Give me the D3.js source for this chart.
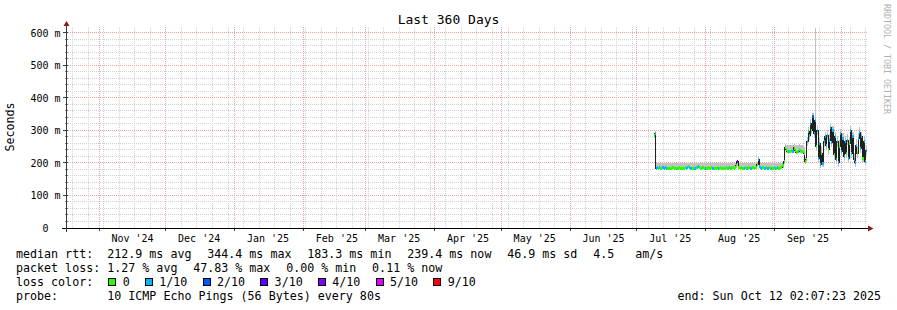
<!DOCTYPE html>
<html>
<head>
<meta charset="utf-8">
<title>Last 360 Days</title>
<script src="https://cdn.jsdelivr.net/npm/d3@7"></script>
<style>
  body { margin: 0; background: #ffffff; }
  svg text { font-family: "DejaVu Sans Mono", monospace; white-space: pre; }
</style>
</head>
<body>
<div class="chart"></div>
<script>
// smokeping style graph, last 360 days

var endTime = new Date(2025, 9, 12, 2, 7, 23);
var spanDays = 360;
var dataStart = new Date(2025, 6, 8, 12, 0, 0);
var stepHours = 12;

// median rtt (ms), one value every 12 hours
var median = [
  283, 290, 184, 185, 184, 185, 184, 184, 185, 184,
  185, 184, 183, 184, 184, 183, 184, 185, 184, 184,
  183, 184, 184, 185, 184, 184, 183, 184, 185, 184,
  185, 190, 185, 184, 184, 183, 184, 184, 185, 186,
  189, 185, 184, 184, 185, 184, 183, 184, 184, 185,
  184, 184, 185, 184, 183, 184, 184, 185, 184, 184,
  185, 184, 184, 183, 184, 185, 184, 184, 185, 184,
  184, 185, 184, 186, 192, 205, 187, 185, 184, 185,
  184, 184, 185, 184, 184, 186, 185, 184, 184, 185,
  184, 185, 186, 194, 212, 188, 185, 184, 185, 184,
  184, 185, 184, 184, 185, 184, 183, 184, 185, 184,
  184, 185, 184, 184, 185, 186, 192, 205, 248, 242,
  236, 234, 235, 236, 238, 235, 246, 237, 233, 234,
  236, 240, 238, 234, 236, 228, 205, 212, 265, 298,
  285, 320, 300, 344, 290, 330, 250, 300, 215, 260,
  196, 230, 198, 265, 280, 255, 285, 240, 270, 310,
  262, 300, 225, 280, 210, 265, 200, 250, 290, 235,
  275, 220, 265, 230, 270, 215, 260, 300, 230, 280,
  210, 200, 255, 230, 275, 295, 245, 280, 215, 265,
  205, 239
];

// smoke band, lowest and highest ping (ms)
var smokeLo = [
  278, 282, 181, 182, 181, 182, 181, 181, 182, 181,
  182, 181, 180, 181, 181, 180, 181, 182, 181, 181,
  180, 181, 181, 182, 181, 181, 180, 181, 182, 181,
  182, 183, 182, 181, 181, 180, 181, 181, 182, 183,
  183, 182, 181, 181, 182, 181, 180, 181, 181, 182,
  181, 181, 182, 181, 180, 181, 181, 182, 181, 181,
  182, 181, 181, 180, 181, 182, 181, 181, 182, 181,
  181, 182, 181, 183, 186, 190, 183, 182, 181, 182,
  181, 181, 182, 181, 181, 183, 182, 181, 181, 182,
  181, 182, 183, 187, 196, 184, 182, 181, 182, 181,
  181, 182, 181, 181, 182, 181, 180, 181, 182, 181,
  181, 182, 181, 181, 182, 183, 186, 196, 236, 232,
  230, 229, 230, 230, 231, 230, 234, 231, 229, 229,
  230, 232, 231, 229, 230, 222, 198, 204, 252, 286,
  272, 305, 288, 332, 276, 312, 236, 286, 202, 244,
  186, 216, 188, 250, 266, 240, 270, 226, 256, 296,
  248, 286, 212, 266, 198, 250, 188, 236, 276, 222,
  262, 206, 250, 216, 256, 202, 246, 286, 216, 266,
  198, 188, 240, 216, 262, 282, 232, 266, 202, 250,
  194, 226
];

var smokeHi = [
  292, 298, 200, 200, 201, 200, 199, 200, 200, 201,
  200, 200, 199, 200, 201, 200, 200, 199, 200, 200,
  201, 200, 200, 199, 200, 200, 201, 200, 200, 200,
  199, 202, 200, 200, 201, 200, 200, 199, 200, 200,
  201, 200, 200, 200, 199, 200, 201, 200, 200, 200,
  200, 199, 200, 201, 200, 200, 200, 199, 200, 201,
  200, 200, 200, 199, 200, 201, 200, 200, 200, 199,
  200, 200, 201, 200, 201, 210, 200, 200, 199, 200,
  200, 201, 200, 200, 199, 200, 200, 201, 200, 200,
  200, 199, 200, 203, 218, 202, 200, 200, 201, 200,
  200, 199, 200, 200, 201, 200, 200, 199, 200, 200,
  201, 200, 200, 199, 200, 200, 203, 212, 258, 256,
  255, 254, 255, 256, 255, 254, 262, 256, 255, 254,
  255, 258, 256, 255, 254, 248, 218, 228, 280, 310,
  300, 335, 318, 355, 315, 615, 275, 318, 240, 278,
  212, 252, 214, 282, 296, 275, 300, 262, 288, 322,
  282, 315, 248, 296, 232, 284, 218, 270, 305, 258,
  292, 242, 284, 252, 288, 236, 280, 315, 252, 296,
  232, 220, 274, 252, 292, 310, 265, 296, 236, 284,
  226, 255
];

// packet loss bucket (index into lossLabels)
var lossIdx = [
  0, 1, 1, 1, 0, 1, 0, 0, 1, 1,
  1, 1, 0, 0, 0, 0, 0, 0, 0, 0,
  0, 0, 0, 0, 0, 0, 0, 0, 0, 1,
  1, 0, 1, 1, 1, 0, 1, 1, 0, 1,
  1, 0, 0, 0, 0, 0, 1, 0, 0, 0,
  0, 0, 0, 1, 0, 0, 0, 0, 1, 0,
  0, 0, 0, 0, 0, 0, 0, 0, 1, 0,
  0, 0, 0, 0, 0, 4, 0, 0, 0, 0,
  0, 1, 0, 0, 1, 0, 0, 1, 1, 0,
  0, 0, 0, 0, 1, 1, 1, 1, 0, 1,
  1, 0, 1, 1, 0, 0, 1, 0, 0, 1,
  0, 1, 0, 0, 0, 0, 0, 0, 0, 0,
  0, 1, 0, 0, 0, 1, 0, 0, 0, 0,
  1, 0, 0, 0, 0, 0, 0, 0, 1, 1,
  1, 1, 0, 2, 1, 1, 0, 1, 1, 1,
  1, 0, 1, 1, 1, 1, 1, 0, 1, 1,
  1, 1, 0, 1, 1, 1, 1, 0, 1, 1,
  1, 1, 1, 0, 1, 1, 0, 1, 1, 1,
  1, 1, 1, 0, 1, 1, 1, 1, 0, 1,
  1, 1
];

var lossLabels = ["0", "1/10", "2/10", "3/10", "4/10", "5/10", "9/10"];
var lossColors = ["#26ff00", "#00b8ff", "#0059ff", "#5e00ff", "#7e00ff", "#dd00ff", "#ff0000"];

var monthLabels = ["Nov '24", "Dec '24", "Jan '25", "Feb '25", "Mar '25", "Apr '25",
                   "May '25", "Jun '25", "Jul '25", "Aug '25", "Sep '25"];
var yTicks = [0, 100, 200, 300, 400, 500, 600];
var yLabels = ["0  ", "100 m", "200 m", "300 m", "400 m", "500 m", "600 m"];

var rttStats = ["212.9 ms avg", "344.4 ms max", "183.3 ms min", "239.4 ms now", "46.9 ms sd", "4.5   am/s"];
var lossStats = ["1.27 % avg", "47.83 % max", "0.00 % min", "0.11 % now"];
var probeText = "10 ICMP Echo Pings (56 Bytes) every 80s";
var endText = "end: Sun Oct 12 02:07:23 2025";
var titleText = "Last 360 Days";
var yTitle = "Seconds";
var watermark = "RRDTOOL / TOBI OETIKER";

var svgWidth = 897;
var svgHeight = 310;
var plot = { left: 66, right: 866, top: 28, bottom: 228 };

var svg = d3.select(".chart")
    .append("svg")
    .attr("width", svgWidth)
    .attr("height", svgHeight);

svg.append("rect")
    .attr("width", svgWidth)
    .attr("height", svgHeight)
    .attr("fill", "#ffffff");

var startTime = new Date(+endTime - spanDays * 864e5);

var xScale = d3.scaleTime().domain([startTime, endTime]).range([plot.left, plot.right]);
var yScale = d3.scaleLinear().domain([0, d3.max(smokeHi)]).range([plot.bottom, plot.top]);

function px(v) { return Math.floor(v) + 0.5; }

// grid
var grid = svg.append("g").attr("shape-rendering", "crispEdges");

var minorY = d3.range(20, 601, 20).filter(function(v) { return v % 100 !== 0; });
grid.selectAll(".hminor").data(minorY).enter().append("line")
    .attr("x1", plot.left).attr("x2", plot.right + 1)
    .attr("y1", function(d) { return px(yScale(d)); })
    .attr("y2", function(d) { return px(yScale(d)); })
    .attr("stroke", "#d2d2d2").attr("stroke-dasharray", "1,1");

grid.selectAll(".vminor").data(d3.timeSunday.range(startTime, endTime)).enter().append("line")
    .attr("x1", function(d) { return px(xScale(d)); })
    .attr("x2", function(d) { return px(xScale(d)); })
    .attr("y1", plot.top - 1).attr("y2", plot.bottom)
    .attr("stroke", "#d2d2d2").attr("stroke-dasharray", "1,1");

var monthStarts = d3.timeMonth.range(startTime, endTime);

grid.selectAll(".hmajor").data(yTicks.slice(1)).enter().append("line")
    .attr("x1", plot.left).attr("x2", plot.right + 1)
    .attr("y1", function(d) { return px(yScale(d)); })
    .attr("y2", function(d) { return px(yScale(d)); })
    .attr("stroke", "#eba2a2").attr("stroke-dasharray", "1,1");

grid.selectAll(".vmajor").data(monthStarts).enter().append("line")
    .attr("x1", function(d) { return px(xScale(d)); })
    .attr("x2", function(d) { return px(xScale(d)); })
    .attr("y1", plot.top - 1).attr("y2", plot.bottom)
    .attr("stroke", "#eba2a2").attr("stroke-dasharray", "1,1");

// data points
var points = median.map(function(m, i) {
    return {
        t: d3.timeHour.offset(dataStart, i * stepHours),
        t1: d3.timeHour.offset(dataStart, (i + 1) * stepHours),
        med: m,
        lo: smokeLo[i],
        hi: smokeHi[i],
        loss: lossIdx[i]
    };
});
var last = points[points.length - 1];
var stepped = points.concat([{ t: last.t1, med: last.med, lo: last.lo, hi: last.hi }]);

var smokeArea = d3.area()
    .curve(d3.curveStepAfter)
    .x(function(d) { return xScale(d.t); })
    .y0(function(d) { return yScale(d.lo); })
    .y1(function(d) { return yScale(d.hi); });

svg.append("path")
    .datum(stepped)
    .attr("d", smokeArea)
    .attr("fill", "#c2c2c2")
    .attr("shape-rendering", "crispEdges");

var medianLine = d3.line()
    .curve(d3.curveStepAfter)
    .x(function(d) { return px(xScale(d.t)); })
    .y(function(d) { return px(yScale(d.med)); });

svg.append("path")
    .datum(stepped)
    .attr("d", medianLine)
    .attr("fill", "none")
    .attr("stroke", "#202020")
    .attr("stroke-width", 1)
    .attr("shape-rendering", "crispEdges");

svg.append("g")
    .attr("shape-rendering", "crispEdges")
    .selectAll("rect")
    .data(points)
    .enter()
    .append("rect")
    .attr("x", function(d) { return xScale(d.t); })
    .attr("width", function(d) { return xScale(d.t1) - xScale(d.t); })
    .attr("y", function(d) { return yScale(d.med) - 1.5; })
    .attr("height", 3)
    .attr("fill", function(d) { return lossColors[d.loss]; });

// axes
var axes = svg.append("g").attr("shape-rendering", "crispEdges");

axes.selectAll(".ytick").data(yTicks.slice(1)).enter().append("line")
    .attr("x1", plot.left - 3).attr("x2", plot.left + 2)
    .attr("y1", function(d) { return px(yScale(d)); })
    .attr("y2", function(d) { return px(yScale(d)); })
    .attr("stroke", "#404040");

axes.selectAll(".yminortick").data(minorY).enter().append("line")
    .attr("x1", plot.left - 1).attr("x2", plot.left + 2)
    .attr("y1", function(d) { return px(yScale(d)); })
    .attr("y2", function(d) { return px(yScale(d)); })
    .attr("stroke", "#808080");

axes.selectAll(".xtick").data(monthStarts).enter().append("line")
    .attr("x1", function(d) { return px(xScale(d)); })
    .attr("x2", function(d) { return px(xScale(d)); })
    .attr("y1", plot.bottom).attr("y2", plot.bottom + 3)
    .attr("stroke", "#404040");

axes.append("line")
    .attr("x1", plot.left - 4).attr("x2", plot.right + 3)
    .attr("y1", plot.bottom + 0.5).attr("y2", plot.bottom + 0.5)
    .attr("stroke", "#000000").attr("stroke-width", 1.4);

axes.append("line")
    .attr("x1", plot.left + 0.5).attr("x2", plot.left + 0.5)
    .attr("y1", plot.bottom + 4).attr("y2", plot.top - 3)
    .attr("stroke", "#3a3a3a");

svg.append("path")
    .attr("d", "M" + (plot.left - 2.5) + "," + (plot.top - 2) + "L" + (plot.left + 0.5) + "," + (plot.top - 7) +
               "L" + (plot.left + 3.5) + "," + (plot.top - 2) + "Z")
    .attr("fill", "#8e1a1a");

svg.append("path")
    .attr("d", "M" + (plot.right + 2) + "," + (plot.bottom - 2.5) + "L" + (plot.right + 7.5) + "," + (plot.bottom + 0.5) +
               "L" + (plot.right + 2) + "," + (plot.bottom + 3.5) + "Z")
    .attr("fill", "#8e1a1a");

// axis labels
svg.selectAll(".ylab").data(yTicks).enter().append("text")
    .attr("x", plot.left - 5.5)
    .attr("y", function(d) { return yScale(d) + 3.7; })
    .attr("text-anchor", "end")
    .attr("font-size", "10px")
    .attr("fill", "#000")
    .text(function(d, i) { return yLabels[i]; });

svg.selectAll(".xlab").data(monthLabels).enter().append("text")
    .attr("x", function(d, i) { return xScale(d3.timeDay.offset(monthStarts[i], 15)); })
    .attr("y", 241.5)
    .attr("text-anchor", "middle")
    .attr("font-size", "10px")
    .attr("fill", "#000")
    .text(function(d) { return d; });

svg.append("text")
    .attr("x", svgWidth / 2)
    .attr("y", 24)
    .attr("text-anchor", "middle")
    .attr("font-size", "13px")
    .attr("fill", "#000")
    .text(titleText);

svg.append("text")
    .attr("transform", "translate(14.3,127) rotate(-90)")
    .attr("text-anchor", "middle")
    .attr("font-size", "11.66px")
    .attr("fill", "#000")
    .text(yTitle);

svg.append("text")
    .attr("transform", "translate(884,4) rotate(90)")
    .attr("font-size", "8.3px")
    .attr("fill", "#b0b0b0")
    .text(watermark);

// legend
var legendSize = 11.66;
var gap = 15.76;
var probe = svg.append("text").attr("font-size", legendSize + "px").text("0123456789");
var adv = probe.node().getComputedTextLength() / 10;
probe.remove();

function legendText(x, y, s) {
    svg.append("text")
        .attr("x", x).attr("y", y)
        .attr("font-size", legendSize + "px")
        .attr("fill", "#000")
        .text(s);
    return x + s.length * adv;
}

var legendX = 16;
var rows = [258, 272, 286, 300];

var x = legendText(legendX, rows[0], "median rtt:  ");
rttStats.forEach(function(s) { x = legendText(x, rows[0], s) + gap; });

x = legendText(legendX, rows[1], "packet loss: ");
lossStats.forEach(function(s) { x = legendText(x, rows[1], s) + gap; });

x = legendText(legendX, rows[2], "loss color:  ");
lossLabels.forEach(function(s, i) {
    svg.append("rect")
        .attr("x", x + 1.5).attr("y", rows[2] - 7.5)
        .attr("width", 7).attr("height", 7)
        .attr("fill", lossColors[i])
        .attr("stroke", "#000").attr("stroke-width", 1)
        .attr("shape-rendering", "crispEdges");
    x = legendText(x + 15.4, rows[2], s) + 14.2;
});

x = legendText(legendX, rows[3], "probe:       ");
legendText(x, rows[3], probeText);

svg.append("text")
    .attr("x", 881)
    .attr("y", rows[3])
    .attr("text-anchor", "end")
    .attr("font-size", legendSize + "px")
    .attr("fill", "#000")
    .text(endText);
</script>
</body>
</html>
